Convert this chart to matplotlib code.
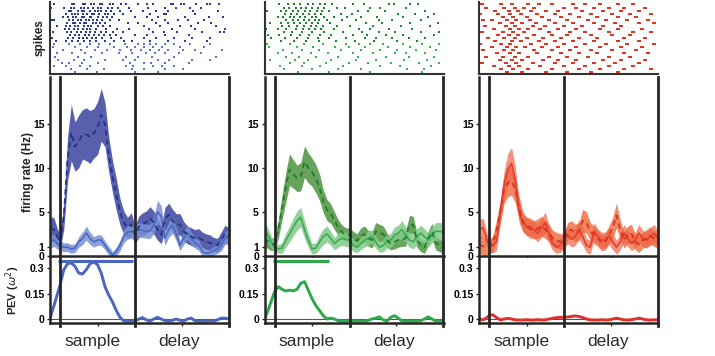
import numpy as np
import matplotlib
matplotlib.use('Agg')
import matplotlib.pyplot as plt

plt.rcParams['font.family'] = ['Liberation Sans', 'DejaVu Sans']
plt.rcParams['mathtext.fontset'] = 'dejavusans'

# ---------------- data ----------------
time_ms = [-65, -40, -20, 0, 25, 50, 75, 100, 125, 150, 175, 200, 225, 250, 275, 300,
           325, 350, 375, 400, 425, 450, 475, 500, 525, 550, 575, 600, 625, 650, 675,
           700, 725, 750, 775, 800, 825, 850, 875, 900, 925, 950, 975, 1000, 1025,
           1050, 1075, 1100, 1125]

blue_pref = [3.2, 3.0, 2.2, 1.6, 4.5, 11.0, 14.0, 12.4, 13.0, 13.8, 13.8, 13.5, 13.9, 14.5, 16.0,
             14.9, 11.5, 9.0, 7.0, 5.0, 3.8, 3.2, 3.6, 2.4, 3.3, 3.6, 3.8, 4.3, 3.8, 3.0, 2.4,
             4.2, 4.7, 4.0, 3.5, 3.6, 2.8, 2.4, 2.2, 2.0, 2.1, 1.8, 1.6, 1.5, 1.3, 1.2, 1.8, 2.5, 2.2]
blue_pref_sem = [1.3, 1.3, 1.0, 0.8, 1.5, 2.5, 3.2, 2.8, 3.0, 2.8, 3.0, 3.0, 2.8, 3.0, 3.0, 2.5,
                 2.0, 1.8, 1.8, 1.5, 1.3, 1.2, 1.3, 1.0, 1.2, 1.3, 1.3, 1.3, 1.3, 1.2, 1.0, 1.3,
                 1.3, 1.3, 1.3, 1.2, 1.1, 1.0, 1.0, 1.0, 1.0, 0.9, 0.9, 0.9, 0.8, 0.8, 0.9, 1.0, 1.0]
blue_nonpref = [1.6, 1.8, 1.4, 1.2, 1.0, 1.0, 0.8, 0.9, 1.6, 2.0, 2.6, 2.0, 1.6, 1.8, 1.8, 1.2,
                0.6, 0.1, 0.5, 1.2, 2.2, 2.7, 2.8, 2.7, 3.0, 2.9, 2.8, 2.8, 3.5, 5.0, 4.5, 2.0,
                3.0, 3.5, 2.5, 1.2, 2.0, 2.7, 2.0, 1.5, 1.2, 0.5, 0.3, 0.4, 0.6, 0.8, 1.2, 2.0, 2.4]
blue_nonpref_sem = [0.7, 0.7, 0.6, 0.6, 0.5, 0.5, 0.5, 0.5, 0.6, 0.7, 0.8, 0.7, 0.6, 0.6, 0.6, 0.5,
                    0.5, 0.4, 0.5, 0.6, 0.7, 0.8, 0.8, 0.8, 0.8, 0.8, 0.8, 0.8, 1.0, 1.3, 1.2, 0.8,
                    0.9, 0.9, 0.8, 0.6, 0.7, 0.8, 0.7, 0.6, 0.6, 0.5, 0.4, 0.4, 0.5, 0.5, 0.6, 0.7, 0.8]
blue_pev = [0.01, 0.08, 0.14, 0.20, 0.29, 0.325, 0.33, 0.31, 0.27, 0.265, 0.29, 0.325, 0.335, 0.32,
            0.27, 0.19, 0.14, 0.10, 0.05, 0.01, -0.012, -0.012, -0.012, -0.012, 0.0, 0.008, -0.005,
            -0.012, 0.0, 0.01, 0.0, -0.01, -0.012, -0.008, 0.0, -0.008, -0.012, 0.0, 0.005, -0.01,
            -0.012, -0.012, -0.012, -0.01, -0.012, -0.005, 0.005, 0.005, 0.0]
blue_sig = [-12, 487]

green_pref = [2.0, 1.6, 1.3, 1.4, 3.0, 5.5, 7.8, 9.8, 9.3, 8.8, 9.0, 10.7, 10.0, 9.5, 8.8, 7.8,
              6.2, 5.2, 4.8, 4.0, 3.2, 2.7, 2.4, 2.4, 2.0, 1.7, 2.3, 2.5, 2.0, 1.8, 2.8, 2.6,
              2.5, 1.8, 1.4, 1.6, 1.8, 1.9, 2.0, 3.6, 3.5, 1.8, 1.2, 1.0, 2.0, 2.8, 1.5, 1.2, 1.0]
green_pref_sem = [0.9, 0.8, 0.7, 0.7, 1.0, 1.4, 1.7, 1.8, 1.6, 1.5, 1.6, 1.8, 1.7, 1.6, 1.6, 1.5,
                  1.3, 1.2, 1.1, 1.0, 0.9, 0.8, 0.8, 0.8, 0.8, 0.8, 0.9, 0.9, 0.9, 0.9, 1.0, 1.0,
                  0.9, 0.8, 0.7, 0.8, 0.8, 0.8, 0.9, 1.0, 1.0, 0.8, 0.7, 0.7, 0.8, 0.9, 0.8, 0.7, 0.7]
green_nonpref = [3.0, 2.2, 1.5, 1.0, 0.8, 0.9, 1.8, 2.5, 3.3, 4.0, 4.4, 3.0, 1.8, 0.8, 0.9, 1.6,
                 2.2, 2.5, 2.0, 1.4, 1.8, 2.0, 1.9, 1.8, 1.2, 1.0, 1.4, 1.8, 2.0, 2.2, 1.6, 1.0,
                 1.2, 1.6, 1.8, 2.4, 2.6, 3.0, 2.4, 1.8, 1.6, 2.2, 2.6, 2.2, 1.8, 2.4, 2.8, 2.8, 2.7]
green_nonpref_sem = [0.9, 0.8, 0.7, 0.6, 0.5, 0.6, 0.8, 0.9, 1.0, 1.1, 1.1, 1.0, 0.8, 0.6, 0.6, 0.8,
                     0.9, 0.9, 0.8, 0.7, 0.8, 0.8, 0.8, 0.8, 0.7, 0.6, 0.7, 0.8, 0.8, 0.8, 0.7, 0.6,
                     0.7, 0.7, 0.8, 0.9, 0.9, 1.0, 0.9, 0.8, 0.8, 0.9, 0.9, 0.9, 0.8, 0.9, 1.0, 1.0, 1.0]
green_pev = [0.0, 0.06, 0.11, 0.16, 0.19, 0.175, 0.165, 0.17, 0.165, 0.175, 0.21, 0.22, 0.17, 0.12,
             0.08, 0.05, 0.02, 0.0, 0.005, 0.0, -0.01, -0.012, -0.012, -0.012, -0.012, -0.012,
             -0.012, -0.012, -0.008, 0.0, 0.005, 0.012, -0.005, -0.012, 0.01, 0.02, 0.005, -0.012,
             -0.012, -0.012, -0.012, -0.012, -0.01, 0.0, 0.012, 0.0, -0.012, -0.01, -0.012]
green_sig = [-11, 362]

red_pref = [1.3, 1.1, 1.0, 1.0, 1.4, 3.0, 5.0, 7.5, 8.3, 8.5, 7.5, 5.5, 3.9, 3.4, 3.3, 3.0,
            3.1, 3.4, 3.0, 2.6, 2.0, 1.8, 1.6, 1.8, 2.8, 3.0, 2.6, 2.8, 4.0, 3.8, 2.8, 2.4,
            2.0, 1.5, 1.6, 2.4, 3.2, 4.6, 3.0, 1.8, 2.4, 2.6, 1.6, 1.3, 1.8, 2.0, 2.3, 2.0, 1.8]
red_pref_sem = [1.0, 1.0, 0.9, 0.8, 0.9, 1.1, 1.3, 1.5, 1.6, 1.6, 1.5, 1.3, 1.1, 1.0, 1.0, 1.0,
                1.1, 1.1, 1.0, 1.0, 0.9, 0.9, 0.9, 0.9, 1.0, 1.0, 1.0, 1.0, 1.3, 1.2, 1.0, 1.0,
                0.9, 0.9, 0.9, 1.0, 1.2, 1.4, 1.1, 0.9, 1.0, 1.0, 0.9, 0.9, 0.9, 1.0, 1.0, 0.9, 0.9]
red_nonpref = [3.0, 3.2, 2.2, 1.0, 1.2, 1.6, 5.0, 8.0, 9.8, 10.5, 8.6, 5.0, 3.8, 3.3, 3.0, 3.0,
               2.6, 3.2, 3.8, 2.5, 1.4, 1.0, 1.2, 1.8, 2.4, 1.9, 2.2, 3.0, 2.2, 1.2, 1.0, 2.8,
               2.2, 1.8, 1.8, 2.3, 1.6, 1.0, 1.6, 2.6, 2.0, 1.4, 1.8, 2.6, 2.0, 1.8, 2.2, 2.6, 2.0]
red_nonpref_sem = [1.1, 1.1, 0.9, 0.7, 0.8, 1.0, 1.3, 1.6, 1.8, 1.8, 1.6, 1.2, 1.0, 1.0, 1.0, 1.0,
                   1.0, 1.1, 1.2, 1.0, 0.8, 0.7, 0.8, 0.9, 1.0, 0.9, 1.0, 1.1, 1.0, 0.8, 0.8, 1.0,
                   0.9, 0.9, 0.9, 1.0, 0.9, 0.8, 0.9, 1.0, 0.9, 0.8, 0.9, 1.0, 0.9, 0.9, 1.0, 1.0, 0.9]
red_pev = [0.0, -0.005, 0.005, 0.02, 0.025, 0.008, -0.005, 0.0, 0.004, 0.0, -0.005, -0.006, -0.006,
           -0.004, -0.006, -0.006, -0.004, -0.006, -0.005, 0.0, 0.004, 0.008, 0.01, 0.01, 0.012,
           0.015, 0.018, 0.015, 0.008, 0.0, -0.005, -0.006, -0.006, -0.004, -0.006, -0.005, 0.0,
           0.005, 0.0, -0.005, -0.006, -0.004, 0.0, 0.005, 0.0, -0.005, -0.006, -0.005, -0.004]
red_sig = None

# spike rasters: spike times (ms) per trial, top row first
blue_raster_pref = [
    [-40, 78, 92, 150, 168, 205, 228, 266, 281, 335, 352, 404, 442, 517, 581, 622, 740, 752, 806, 830, 905, 982, 1003, 1062],
    [-60, 28, 72, 96, 138, 161, 186, 221, 252, 274, 318, 349, 384, 463, 589, 702, 776, 864, 938],
    [58, 70, 121, 144, 159, 203, 236, 251, 276, 308, 342, 401, 474, 553, 641, 723, 884, 1053],
    [38, 81, 103, 118, 152, 183, 214, 227, 262, 297, 322, 358, 421, 598, 692, 705, 903],
    [18, 52, 88, 109, 145, 162, 199, 208, 254, 289, 316, 347, 502, 578, 655, 833, 991, 1084],
    [-52, -40, 61, 86, 118, 143, 174, 193, 222, 247, 283, 331, 392, 612, 698, 786, 852, 962],
    [49, 84, 101, 136, 163, 175, 219, 243, 267, 302, 452, 523, 642, 719, 922, 1004],
    [-22, 41, 68, 99, 122, 158, 188, 207, 252, 285, 333, 561, 664, 801, 873, 1038],
    [31, 57, 93, 118, 152, 177, 202, 238, 305, 381, 462, 592, 748, 903, 1098],
    [-45, 47, 73, 112, 139, 172, 198, 233, 271, 309, 353, 423, 618, 693, 781, 948, 1069, 1096],
    [68, 103, 128, 164, 192, 229, 258, 294, 331, 372, 503, 582, 697, 862],
    [-55, 52, 87, 124, 156, 181, 213, 242, 278, 343, 408, 563, 641, 758, 882, 1002],
    [-30, 43, 79, 123, 161, 198, 243, 302, 362, 428, 483, 603, 718, 832, 977],
]
blue_raster_nonpref = [
    [-40, 62, 133, 197, 263, 331, 432, 521, 558, 603, 642, 697, 763, 868, 1002],
    [-50, 98, 183, 252, 362, 448, 503, 561, 618, 683, 798, 963],
    [18, 142, 231, 312, 398, 472, 538, 601, 662, 718, 822, 898, 1082],
    [-22, 83, 168, 281, 392, 478, 571, 633, 698, 793, 942],
    [-32, 122, 208, 441, 518, 612, 758, 1041],
    [-12, 92, 158, 302, 418, 502, 652, 728, 882, 998],
    [12, 61, 148, 253, 468, 562, 608, 702, 858],
    [-42, 38, 133, 198, 442, 488, 621, 682, 761],
    [72, 178, 292, 482, 558, 698, 822],
    [102, 248, 502, 652],
]
green_raster_pref = [
    [32, 88, 133, 168, 222, 258, 303, 338, 382, 522, 598, 762, 798, 902, 958],
    [62, 98, 142, 178, 212, 248, 292, 328, 418, 472, 638, 702, 878],
    [-52, 42, 78, 122, 158, 202, 238, 282, 318, 362, 558, 622, 738, 1002],
    [68, 112, 148, 192, 228, 272, 308, 442, 518, 822, 938, 1062],
    [22, 58, 102, 133, 172, 203, 247, 278, 332, 398, 482, 578, 682, 858, 1022],
    [78, 122, 158, 197, 228, 267, 298, 352, 448, 542, 698, 782, 978],
    [-32, 42, 88, 132, 168, 212, 248, 292, 368, 612, 718, 902, 1088],
    [52, 98, 152, 198, 242, 278, 322, 418, 502, 658, 842, 1038],
    [-58, 22, 78, 142, 188, 232, 268, 312, 398, 562, 638, 762, 918],
    [62, 118, 182, 248, 332, 458, 582, 698, 802, 978, 1098],
    [-42, 32, 108, 172, 228, 302, 378, 522, 618, 742, 858, 1062],
    [-22, 72, 148, 222, 288, 362, 478, 602, 678, 782, 898, 1002],
    [42, 128, 212, 298, 412, 538, 662, 818, 952],
]
green_raster_nonpref = [
    [-52, 102, 198, 322, 478, 562, 638, 722, 858, 982, 1098],
    [-62, -38, 152, 258, 402, 498, 602, 758, 902, 1038],
    [58, 182, 298, 442, 578, 702, 818, 942, 1078],
    [22, 118, 242, 358, 522, 658, 802, 878, 1002],
    [78, 162, 278, 422, 558, 742, 898, 1062],
    [-28, 138, 222, 378, 542, 678, 862, 1018],
    [102, 198, 342, 498, 622, 778, 962, 1098],
    [38, 182, 302, 458, 702, 838, 1042],
    [62, 248, 422, 578, 882, 998],
    [158, 362, 638, 982],
]
red_raster_pref = [
    [-50, 80, 150, 260, 330, 420, 560, 640, 740, 860, 960],
    [-20, 100, 170, 230, 300, 500, 580, 700, 800, 900, 1040],
    [40, 130, 190, 280, 380, 460, 620, 760, 880, 1000],
    [-60, 60, 140, 210, 320, 440, 540, 680, 820, 940, 1080],
    [90, 160, 250, 350, 480, 600, 720, 860, 980],
    [-40, 20, 120, 180, 270, 400, 520, 660, 780, 920, 1060],
    [70, 150, 220, 310, 440, 560, 700, 840, 1000, 1100],
    [-30, 110, 170, 290, 370, 500, 620, 760, 880],
    [30, 140, 200, 260, 340, 460, 580, 740, 860, 1020],
    [-50, 90, 160, 230, 400, 540, 640, 800, 960, 1080],
    [60, 130, 190, 300, 420, 520, 680, 820, 940],
    [-10, 100, 170, 250, 360, 480, 600, 720, 900, 1040],
    [40, 150, 210, 330, 440, 560, 700, 860, 1000],
]
red_raster_nonpref = [
    [-60, 80, 140, 280, 380, 500, 640, 780, 920, 1100],
    [20, 120, 180, 240, 350, 460, 580, 740, 880, 1020],
    [-40, 100, 160, 300, 420, 540, 680, 820, 980],
    [50, 140, 200, 320, 480, 600, 720, 900, 1060],
    [-20, 90, 170, 260, 400, 520, 660, 800, 940],
    [70, 150, 220, 360, 460, 580, 760, 880, 1040],
    [-50, 110, 180, 290, 440, 560, 700, 840, 1000],
    [30, 130, 200, 340, 500, 640, 800, 960],
    [80, 160, 260, 420, 600, 740, 900, 1080],
    [120, 220, 380, 520, 680, 860],
]

epoch_edges = [0, 500, 1125]
epoch_ticks = [250, 812]
epoch_names = ['sample', 'delay']
rate_ticks = [0, 1, 5, 10, 15]
pev_ticks = [0, 0.15, 0.3]
pev_ticklabels = ['0', '0.15', '0.3']

# ---------------- style ----------------
panels = [
    dict(pref=blue_pref, pref_sem=blue_pref_sem, non=blue_nonpref, non_sem=blue_nonpref_sem,
         pev=blue_pev, sig=blue_sig, rp=blue_raster_pref, rn=blue_raster_nonpref,
         c_line_p='#25338C', c_band_p='#4F56A9', a_band_p=0.95,
         c_line_n='#4B69C2', c_band_n='#7A90D3', a_band_n=0.85,
         c_pev='#4A66BE', c_rp='#2B3A96', c_rn='#5A78C8', marker='sq'),
    dict(pref=green_pref, pref_sem=green_pref_sem, non=green_nonpref, non_sem=green_nonpref_sem,
         pev=green_pev, sig=green_sig, rp=green_raster_pref, rn=green_raster_nonpref,
         c_line_p='#1C7F2C', c_band_p='#5F9E52', a_band_p=0.95,
         c_line_n='#3DAB50', c_band_n='#83C98A', a_band_n=0.85,
         c_pev='#2AA948', c_rp='#1E8430', c_rn='#3DB050', marker='sq'),
    dict(pref=red_pref, pref_sem=red_pref_sem, non=red_nonpref, non_sem=red_nonpref_sem,
         pev=red_pev, sig=red_sig, rp=red_raster_pref, rn=red_raster_nonpref,
         c_line_p='#D93322', c_band_p='#F07A52', a_band_p=0.9,
         c_line_n='#E3402C', c_band_n='#EE6446', a_band_n=0.7,
         c_pev='#E0302A', c_rp='#E03424', c_rn='#E03424', marker='dash'),
]

W, H = 715, 356
fig = plt.figure(figsize=(W / 100, H / 100), dpi=100)


def rect(left, top, width, height):
    return [left / W, 1 - (top + height) / H, width / W, height / H]


SPINE = '#262626'
lefts = [50, 264.5, 479]
pw = 179
XL = (-67, 1127)

dash_marker = [(-2, -0.8), (2, -0.8), (2, 0.8), (-2, 0.8), (-2, -0.8)]

for k, p in enumerate(panels):
    L = lefts[k]
    # ---- raster ----
    axr = fig.add_axes(rect(L, 2, pw, 72))
    rows = p['rp'] + p['rn']
    cols = [p['c_rp']] * len(p['rp']) + [p['c_rn']] * len(p['rn'])
    if p['marker'] == 'sq':
        mk, ms, snap = 's', 1.85, False
    else:
        mk, ms, snap = dash_marker, 2.3, None
    for i, (row, c) in enumerate(zip(rows, cols)):
        ln, = axr.plot(row, [i] * len(row), ls='none', marker=mk, ms=ms, mew=0, color=c)
        ln.set_snap(snap)
    axr.set_xlim(*XL)
    axr.set_ylim(len(rows) - 0.3, -0.8)
    axr.set_xticks([])
    axr.set_yticks([])
    for s in ['top', 'right']:
        axr.spines[s].set_visible(False)
    for s in ['left', 'bottom']:
        axr.spines[s].set_linewidth(1.5)
        axr.spines[s].set_color('#333333')

    # ---- firing rate ----
    axf = fig.add_axes(rect(L, 77, pw, 179))
    t = np.array(time_ms, dtype=float)
    pm, ps = np.array(p['pref']), np.array(p['pref_sem'])
    nm, ns = np.array(p['non']), np.array(p['non_sem'])
    axf.fill_between(t, pm - ps, pm + ps, color=p['c_band_p'], alpha=p['a_band_p'], lw=0, zorder=1)
    axf.fill_between(t, nm - ns, nm + ns, color=p['c_band_n'], alpha=p['a_band_n'], lw=0, zorder=1.5)
    axf.plot(t, nm, color=p['c_line_n'], lw=1.2, zorder=2)
    axf.plot(t, pm, color=p['c_line_p'], lw=1.3, ls=(0, (3, 2.2)), zorder=2.2)
    for e in epoch_edges:
        axf.axvline(e, color=SPINE, lw=2.0, zorder=3, clip_on=False)
    axf.set_xlim(*XL)
    axf.set_ylim(0, 20.3)
    axf.set_yticks(rate_ticks)
    axf.set_yticklabels([str(v) for v in rate_ticks], fontsize=7.5, fontweight='bold')
    axf.set_xticks(epoch_ticks)
    axf.set_xticklabels([])
    axf.tick_params(axis='both', direction='out', length=2.5, width=1, color=SPINE, pad=1.5)
    for s in ['top', 'right']:
        axf.spines[s].set_visible(False)
    for s in ['left', 'bottom']:
        axf.spines[s].set_linewidth(1.8)
        axf.spines[s].set_color(SPINE)

    # ---- PEV ----
    axp = fig.add_axes(rect(L, 258, pw, 65))
    axp.axhline(0, color='#555555', lw=0.8, zorder=1)
    axp.plot(t, p['pev'], color=p['c_pev'], lw=2.1, zorder=2.5, solid_capstyle='round')
    if p['sig'] is not None:
        axp.plot(p['sig'], [0.341, 0.341], color=p['c_pev'], lw=2.2, solid_capstyle='butt', zorder=2.5)
    for e in epoch_edges:
        axp.axvline(e, ymin=-0.05, ymax=1, color=SPINE, lw=2.0, zorder=3, clip_on=False)
    axp.set_xlim(*XL)
    axp.set_ylim(-0.0235, 0.359)
    axp.set_yticks(pev_ticks)
    axp.set_yticklabels(pev_ticklabels, fontsize=7.5, fontweight='bold')
    axp.set_xticks(epoch_ticks)
    axp.set_xticklabels([])
    axp.tick_params(axis='both', direction='out', length=2.5, width=1, color=SPINE, pad=1.5)
    for s in ['top', 'right']:
        axp.spines[s].set_visible(False)
    for s in ['left', 'bottom']:
        axp.spines[s].set_linewidth(1.8)
        axp.spines[s].set_color(SPINE)

    tr = axp.get_xaxis_transform()
    for name, x in zip(epoch_names, [215, 795]):
        axp.text(x, -0.29, name, transform=tr, ha='center', va='center',
                 fontsize=12.5, color='#2b2b2b')

# axis labels (left panel)
fig.text(40 / W, 1 - 38 / H, 'spikes', rotation=90, ha='center', va='center',
         fontsize=8.5, fontweight='bold', color='#222222')
fig.text(28 / W, 1 - 172 / H, 'firing rate (Hz)', rotation=90, ha='center', va='center',
         fontsize=8.5, fontweight='bold', color='#222222')
fig.text(13 / W, 1 - 290 / H, r'PEV ($\omega^2$)', rotation=90, ha='center', va='center',
         fontsize=8, fontweight='bold', color='#222222')

fig.savefig('out.png', dpi=100)
